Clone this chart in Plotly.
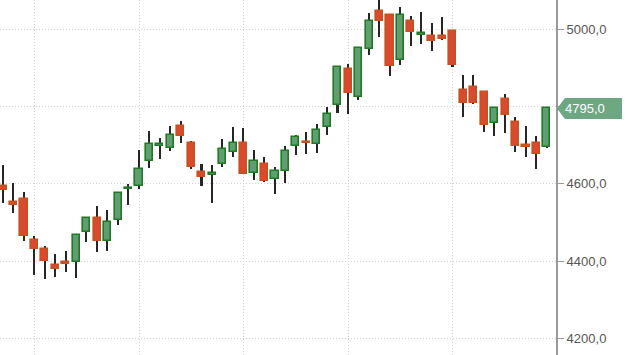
import plotly.graph_objects as go

# ---- data ----
opens  = [4593, 4552, 4561, 4454, 4430, 4390, 4397, 4398, 4475, 4512,
          4453, 4505, 4586, 4594, 4660, 4699, 4693, 4749, 4706, 4631,
          4623, 4650, 4681, 4706, 4629, 4651, 4612, 4634, 4698, 4709,
          4702, 4748, 4804, 4896, 4825, 4948, 5046, 5037, 4920, 5022,
          4985, 4982, 4982, 4995, 4843, 4850, 4838, 4757, 4819, 4761,
          4700, 4706, 4696]
highs  = [4649, 4603, 4578, 4466, 4440, 4418, 4426, 4468, 4513, 4542,
          4532, 4578, 4599, 4687, 4737, 4719, 4750, 4762, 4711, 4651,
          4649, 4715, 4747, 4745, 4687, 4670, 4643, 4698, 4726, 4734,
          4755, 4798, 4902, 4909, 4951, 5041, 5080, 5038, 5058, 5035,
          5044, 5017, 5032, 4995, 4881, 4881, 4838, 4795, 4832, 4772,
          4750, 4724, 4798]
lows   = [4550, 4524, 4453, 4364, 4353, 4358, 4371, 4355, 4450, 4423,
          4425, 4492, 4545, 4586, 4640, 4664, 4686, 4705, 4637, 4594,
          4549, 4644, 4668, 4624, 4610, 4605, 4573, 4603, 4674, 4677,
          4680, 4726, 4782, 4780, 4817, 4932, 4981, 4880, 4907, 4956,
          4963, 4944, 4972, 4903, 4772, 4806, 4735, 4724, 4732, 4683,
          4668, 4638, 4693]
closes = [4584, 4546, 4466, 4432, 4401, 4380, 4392, 4467, 4512, 4453,
          4500, 4577, 4590, 4638, 4703, 4703, 4727, 4724, 4644, 4617,
          4627, 4690, 4706, 4626, 4660, 4608, 4632, 4684, 4722, 4705,
          4740, 4780, 4902, 4834, 4951, 5021, 5021, 4905, 5037, 4994,
          4989, 4970, 4975, 4907, 4810, 4809, 4751, 4795, 4779, 4699,
          4696, 4677, 4795]

y_tick_vals = [4200, 4400, 4600, 4800, 5000]
# the 4800 label is hidden behind the price tag in the reference
y_tick_text = ["4200,0", "4400,0", "4600,0", "", "5000,0"]
last_label = "4795,0"

# ---- styles ----
UP_FILL, UP_LINE = "#5f9e70", "#1f7a23"
DN_FILL, DN_LINE = "#da4a2e", "#c8501f"
WICK = "#262626"
GRID = "#d2d2d2"
Y_RANGE = [4156.8, 5075.6]
X_RANGE = [-0.29, 52.87]

x = list(range(len(opens)))
up = [c >= o for o, c in zip(opens, closes)]
body_base = [min(o, c) for o, c in zip(opens, closes)]
body_h = [max(abs(c - o), 2) for o, c in zip(opens, closes)]
wick_h = [h - l for h, l in zip(highs, lows)]

fig = go.Figure()
fig.add_trace(go.Bar(
    x=x, y=wick_h, base=lows, width=0.15,
    marker=dict(color=WICK, line=dict(width=0)),
    hoverinfo="skip", showlegend=False))
fig.add_trace(go.Bar(
    x=x, y=body_h, base=body_base, width=0.68,
    marker=dict(color=[UP_FILL if u else DN_FILL for u in up],
                line=dict(color=[UP_LINE if u else DN_LINE for u in up], width=1.6)),
    showlegend=False))

# price tag (pentagon pointing at the axis)
ypaper = (closes[-1] - Y_RANGE[0]) / (Y_RANGE[1] - Y_RANGE[0])
fig.add_shape(type="path", xref="paper", yref="paper",
              xsizemode="pixel", ysizemode="pixel", xanchor=1, yanchor=ypaper,
              path="M1,0 L9,10.5 L66,10.5 L66,-10.5 L9,-10.5 Z",
              fillcolor="#6da883", line=dict(width=0), layer="above")
fig.add_annotation(xref="paper", yref="paper", x=1, y=ypaper,
                   xanchor="left", yanchor="middle",
                   xshift=7, text=last_label, showarrow=False,
                   font=dict(family="Liberation Sans, Arial", size=13, color="white"))

fig.update_layout(
    width=630, height=355,
    margin=dict(l=0, r=74, t=0, b=0),
    paper_bgcolor="white", plot_bgcolor="white",
    barmode="overlay", bargap=0,
    font=dict(family="Liberation Sans, Arial", size=13, color="#555555"),
    xaxis=dict(range=X_RANGE, tickvals=[3, 13, 23, 33, 43], showticklabels=False,
               showgrid=True, gridcolor=GRID, griddash="1px,2px", gridwidth=1,
               zeroline=False, showline=False, ticks=""),
    yaxis=dict(range=Y_RANGE, side="right", tickvals=y_tick_vals, ticktext=y_tick_text,
               showgrid=True, gridcolor=GRID, griddash="1px,2px", gridwidth=1,
               zeroline=False, showline=True, linecolor="#9a9a9a", linewidth=2,
               ticks="outside", ticklen=6, tickcolor="#9a9a9a", tickwidth=1,
               tickfont=dict(size=13, color="#555555")),
)

fig.write_html("out.html")
